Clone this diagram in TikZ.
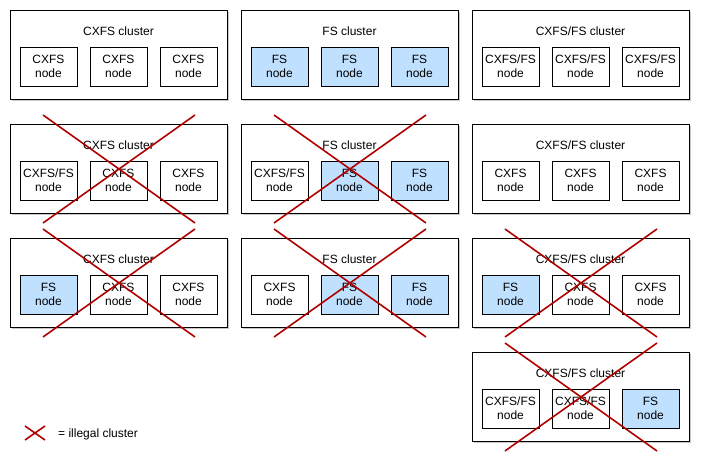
\documentclass[tikz,border=0pt]{standalone}
\usepackage{fontspec}
\setmainfont{Liberation Sans}
\usetikzlibrary{calc}
\definecolor{fsblue}{HTML}{C0E0FF}
\definecolor{xred}{HTML}{B00000}
\definecolor{shadowgray}{HTML}{C8C8C8}
\tikzset{
 clusterbox/.style={draw=black, line width=1pt, fill=white, minimum width=217pt, minimum height=89pt, anchor=north west, inner sep=0pt},
 shadowbox/.style={fill=shadowgray, draw=none, minimum width=217pt, minimum height=89pt, anchor=north west, inner sep=0pt},
 nodebox/.style={draw=black, line width=1pt, fill=white, minimum width=57pt, minimum height=39pt, inner sep=0pt, align=center, font=\fontsize{12}{14}\selectfont},
 fsnode/.style={nodebox, fill=fsblue},
 titletext/.style={font=\fontsize{12}{14}\selectfont, inner sep=0pt},
 crossline/.style={draw=xred, line width=1.6pt},
}
\newcommand\mkcluster[4]{%
  \node[shadowbox] (#1s) at (#2+2,#3+2) {};
  \node[clusterbox] (#1) at (#2,#3) {};
  \node[titletext] (#1t) at (#2+108.5,#3+21.5) {#4};
}
\newcommand\mkcross[1]{%
  \coordinate (#1p1) at ($(#1.center)+(-76,-54)$);
  \coordinate (#1p2) at ($(#1.center)+(76,54)$);
  \coordinate (#1p3) at ($(#1.center)+(76,-54)$);
  \coordinate (#1p4) at ($(#1.center)+(-76,54)$);
  \draw[crossline] (#1p1) -- (#1p2);
  \draw[crossline] (#1p3) -- (#1p4);
}
\begin{document}
\begin{tikzpicture}[x=1pt,y=-1pt]
\useasboundingbox (0,0) rectangle (702,463);
% Row 1
\mkcluster{c11}{10}{10}{CXFS cluster}
\node[nodebox] (c11a) at (10+38.5,10+56.5) {CXFS\\node};
\node[nodebox] (c11b) at (10+108.5,10+56.5) {CXFS\\node};
\node[nodebox] (c11c) at (10+178.5,10+56.5) {CXFS\\node};
\mkcluster{c12}{241}{10}{FS cluster}
\node[fsnode] (c12a) at (241+38.5,10+56.5) {FS\\node};
\node[fsnode] (c12b) at (241+108.5,10+56.5) {FS\\node};
\node[fsnode] (c12c) at (241+178.5,10+56.5) {FS\\node};
\mkcluster{c13}{472}{10}{CXFS/FS cluster}
\node[nodebox] (c13a) at (472+38.5,10+56.5) {CXFS/FS\\node};
\node[nodebox] (c13b) at (472+108.5,10+56.5) {CXFS/FS\\node};
\node[nodebox] (c13c) at (472+178.5,10+56.5) {CXFS/FS\\node};
% Row 2
\mkcluster{c21}{10}{124}{CXFS cluster}
\node[nodebox] (c21a) at (10+38.5,124+56.5) {CXFS/FS\\node};
\node[nodebox] (c21b) at (10+108.5,124+56.5) {CXFS\\node};
\node[nodebox] (c21c) at (10+178.5,124+56.5) {CXFS\\node};
\mkcluster{c22}{241}{124}{FS cluster}
\node[nodebox] (c22a) at (241+38.5,124+56.5) {CXFS/FS\\node};
\node[fsnode] (c22b) at (241+108.5,124+56.5) {FS\\node};
\node[fsnode] (c22c) at (241+178.5,124+56.5) {FS\\node};
\mkcluster{c23}{472}{124}{CXFS/FS cluster}
\node[nodebox] (c23a) at (472+38.5,124+56.5) {CXFS\\node};
\node[nodebox] (c23b) at (472+108.5,124+56.5) {CXFS\\node};
\node[nodebox] (c23c) at (472+178.5,124+56.5) {CXFS\\node};
% Row 3
\mkcluster{c31}{10}{238}{CXFS cluster}
\node[fsnode] (c31a) at (10+38.5,238+56.5) {FS\\node};
\node[nodebox] (c31b) at (10+108.5,238+56.5) {CXFS\\node};
\node[nodebox] (c31c) at (10+178.5,238+56.5) {CXFS\\node};
\mkcluster{c32}{241}{238}{FS cluster}
\node[nodebox] (c32a) at (241+38.5,238+56.5) {CXFS\\node};
\node[fsnode] (c32b) at (241+108.5,238+56.5) {FS\\node};
\node[fsnode] (c32c) at (241+178.5,238+56.5) {FS\\node};
\mkcluster{c33}{472}{238}{CXFS/FS cluster}
\node[fsnode] (c33a) at (472+38.5,238+56.5) {FS\\node};
\node[nodebox] (c33b) at (472+108.5,238+56.5) {CXFS\\node};
\node[nodebox] (c33c) at (472+178.5,238+56.5) {CXFS\\node};
% Row 4
\mkcluster{c43}{472}{352}{CXFS/FS cluster}
\node[nodebox] (c43a) at (472+38.5,352+56.5) {CXFS/FS\\node};
\node[nodebox] (c43b) at (472+108.5,352+56.5) {CXFS/FS\\node};
\node[fsnode] (c43c) at (472+178.5,352+56.5) {FS\\node};
% Crosses
\mkcross{c21}
\mkcross{c22}
\mkcross{c31}
\mkcross{c32}
\mkcross{c33}
\mkcross{c43}
% Legend
\coordinate (lg1) at (25,426);
\coordinate (lg2) at (45,440);
\coordinate (lg3) at (45,426);
\coordinate (lg4) at (25,440);
\draw[crossline] (lg1) -- (lg2);
\draw[crossline] (lg3) -- (lg4);
\node[titletext, anchor=west] (legend) at (58,434.5) {= illegal cluster};
\end{tikzpicture}
\end{document}
